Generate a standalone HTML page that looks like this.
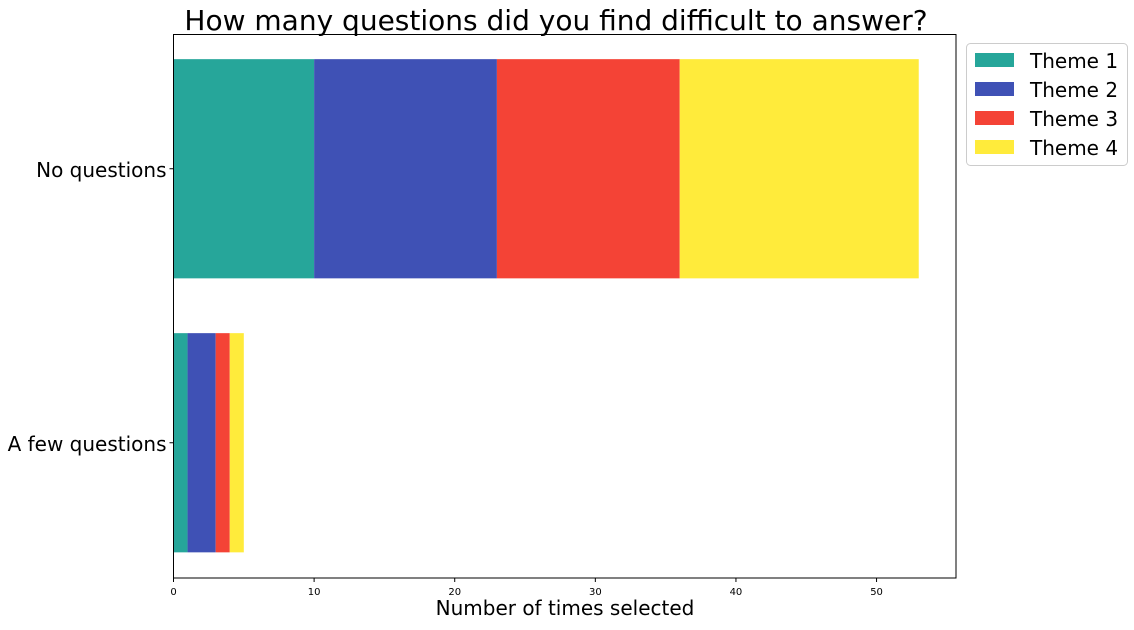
<!DOCTYPE html>
<html><head><meta charset="utf-8"><style>
body{margin:0;background:#fff;width:1134px;height:625px;overflow:hidden}
text{font-family:"DejaVu Sans","Liberation Sans",sans-serif}
</style></head><body>
<svg id="chart" width="1134" height="625" xmlns="http://www.w3.org/2000/svg">
<text x="556" y="30" font-size="28" text-anchor="middle">How many questions did you find difficult to answer?</text>
<g id="bars"></g>
<rect x="173.5" y="34.5" width="782.5" height="543.5" fill="none" stroke="#000" stroke-width="1"/>
<g id="xticks"></g>
<g id="yticks"></g>
<text x="565" y="615" font-size="20" text-anchor="middle">Number of times selected</text>
<g id="legend"></g>
</svg>
<script>
const categories=["No questions","A few questions"];
const seriesNames=["Theme 1","Theme 2","Theme 3","Theme 4"];
const theme1=[10,1];
const theme2=[13,2];
const theme3=[13,1];
const theme4=[17,1];
const xTicks=[0,10,20,30,40,50];
const colors=["#26a69a","#3f51b5","#f44336","#ffeb3b"];
const series=[theme1,theme2,theme3,theme4];
const NS="http://www.w3.org/2000/svg";
const L=173.5,R=956,T=34.5,B=578;
const totals=categories.map((c,i)=>series.reduce((s,a)=>s+a[i],0));
const xMax=Math.max(...totals)*1.05;
const x=v=>L+v/xMax*(R-L);
const unit=274;
const mid=(T+B)/2;
const yc=i=>mid+unit*(i-(categories.length-1)/2)-0.5;
function mk(tag,attrs,parent){const e=document.createElementNS(NS,tag);for(const k in attrs)e.setAttribute(k,attrs[k]);parent.appendChild(e);return e;}
const bars=document.getElementById('bars');
categories.forEach((c,i)=>{let acc=0;series.forEach((s,j)=>{
 const r=mk('rect',{x:x(acc),y:yc(i)-unit*0.4,width:x(acc+s[i])-x(acc),height:unit*0.8,fill:colors[j]},bars);
 
 
 acc+=s[i];});});
const xt=document.getElementById('xticks');
xTicks.forEach(v=>{mk('line',{x1:x(v),x2:x(v),y1:B,y2:B+4,stroke:'#000'},xt);
 const t=mk('text',{x:x(v),y:B+17,'font-size':10,'text-anchor':'middle'},xt);t.textContent=v;
 
 });
const ytg=document.getElementById('yticks');
categories.forEach((c,i)=>{mk('line',{x1:L-4,x2:L,y1:yc(i),y2:yc(i),stroke:'#000'},ytg);
 const t=mk('text',{x:L-7,y:yc(i)+8,'font-size':20,'text-anchor':'end'},ytg);t.textContent=c;
 
 });
const lg=document.getElementById('legend');
mk('rect',{x:966.5,y:43.5,width:161,height:122,rx:4,fill:'#fff',stroke:'#ccc'},lg);
seriesNames.forEach((n,j)=>{const y0=53+j*29;
 const sw=mk('rect',{x:975,y:y0,width:39,height:14,fill:colors[j]},lg);
 
 
 const t=mk('text',{x:1030,y:y0+15,'font-size':20},lg);t.textContent=n;
 
 });
</script>
</body></html>
